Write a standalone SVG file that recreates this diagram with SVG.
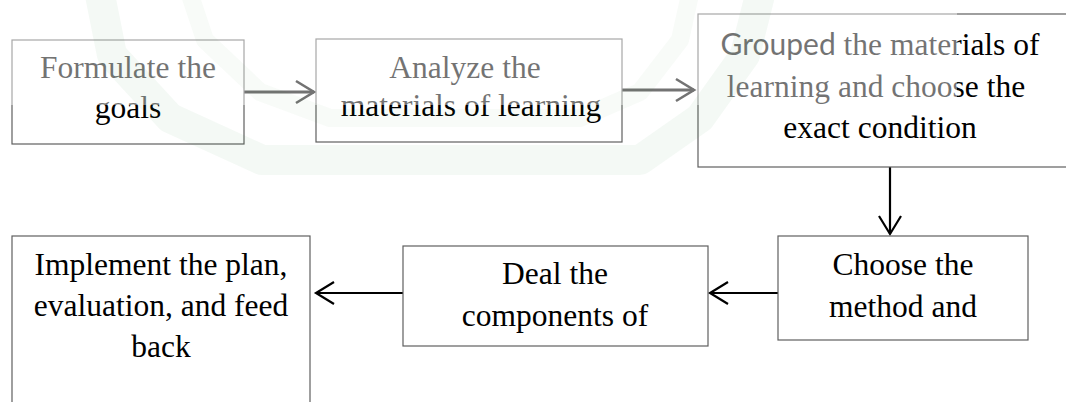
<svg xmlns="http://www.w3.org/2000/svg" width="1066" height="402" viewBox="0 0 1066 402">
<style>
.box{fill:#ffffff;stroke:#5f5f5f;stroke-width:1.2}
.t{font-family:"Liberation Serif","Times New Roman",serif;font-size:31.5px;fill:#000;text-anchor:middle}
.sans{font-family:Lato,"Open Sans",sans-serif;font-size:30px}
.conn{fill:none;stroke:#000}
.thick{stroke-width:2.8}
.thin{stroke-width:2.2}
.wm{fill:none;stroke:#2f9a45;stroke-linejoin:round;stroke-linecap:butt}
</style>
<defs>
<marker id="headT" markerUnits="userSpaceOnUse" viewBox="-22 -14 26 28" refX="0" refY="0" markerWidth="26" markerHeight="28" orient="auto">
<path d="M-18,-11 L0,0 L-18,11" fill="none" stroke="#000" stroke-width="2.6"/>
</marker>
<marker id="headK" markerUnits="userSpaceOnUse" viewBox="-22 -14 26 28" refX="0" refY="0" markerWidth="26" markerHeight="28" orient="auto">
<path d="M-18,-11 L0,0 L-18,11" fill="none" stroke="#000" stroke-width="2.2"/>
</marker>
</defs>
<rect width="1066" height="402" fill="#ffffff"/>
<g id="connectors">
<path class="conn thick" d="M244,92 H314" marker-end="url(#headT)"/>
<path class="conn thick" d="M622,90 H694" marker-end="url(#headT)"/>
<path class="conn thin" d="M890,167 V234" marker-end="url(#headK)"/>
<path class="conn thin" d="M778,293 H710" marker-end="url(#headK)"/>
<path class="conn thin" d="M403,293 H316" marker-end="url(#headK)"/>
</g>
<g id="n1">
<rect class="box" x="12" y="40" width="232" height="104"/>
<text class="t" x="128" y="78">Formulate the</text>
<text class="t" x="128" y="118">goals</text>
</g>
<g id="n2">
<rect class="box" x="316" y="39" width="306" height="103"/>
<text class="t" x="465" y="78">Analyze the</text>
<text class="t" x="471" y="116">materials of learning</text>
</g>
<g id="n3">
<rect class="box" x="698" y="14" width="372" height="153"/>
<text class="t" x="880" y="55"><tspan class="sans">Grouped</tspan> the materials of</text>
<text class="t" x="876" y="97">learning and choose the</text>
<text class="t" x="880" y="138">exact condition</text>
</g>
<g id="n4">
<rect class="box" x="778" y="236" width="250" height="104"/>
<text class="t" x="903" y="275">Choose the</text>
<text class="t" x="903" y="317">method and</text>
</g>
<g id="n5">
<rect class="box" x="403" y="246" width="305" height="100"/>
<text class="t" x="555" y="284">Deal the</text>
<text class="t" x="555" y="326">components of</text>
</g>
<g id="n6">
<rect class="box" x="12" y="236" width="298" height="180"/>
<text class="t" x="161" y="275">Implement the plan,</text>
<text class="t" x="161" y="316">evaluation, and feed</text>
<text class="t" x="161" y="357">back</text>
</g>
<g id="watermark">
<rect x="0" y="0" width="957" height="105" fill="#ffffff" fill-opacity="0.45"/>
<path class="wm" stroke-width="30" stroke-opacity="0.055" d="M100,-5 L112,55 L170,118 L262,160 L640,160 L700,118 L745,55 L760,-5"/>
<path class="wm" stroke-width="18" stroke-opacity="0.035" d="M190,-5 L205,40 L260,92 L330,118 L580,118 L640,92 L680,40 L690,-5"/>
</g>
</svg>
